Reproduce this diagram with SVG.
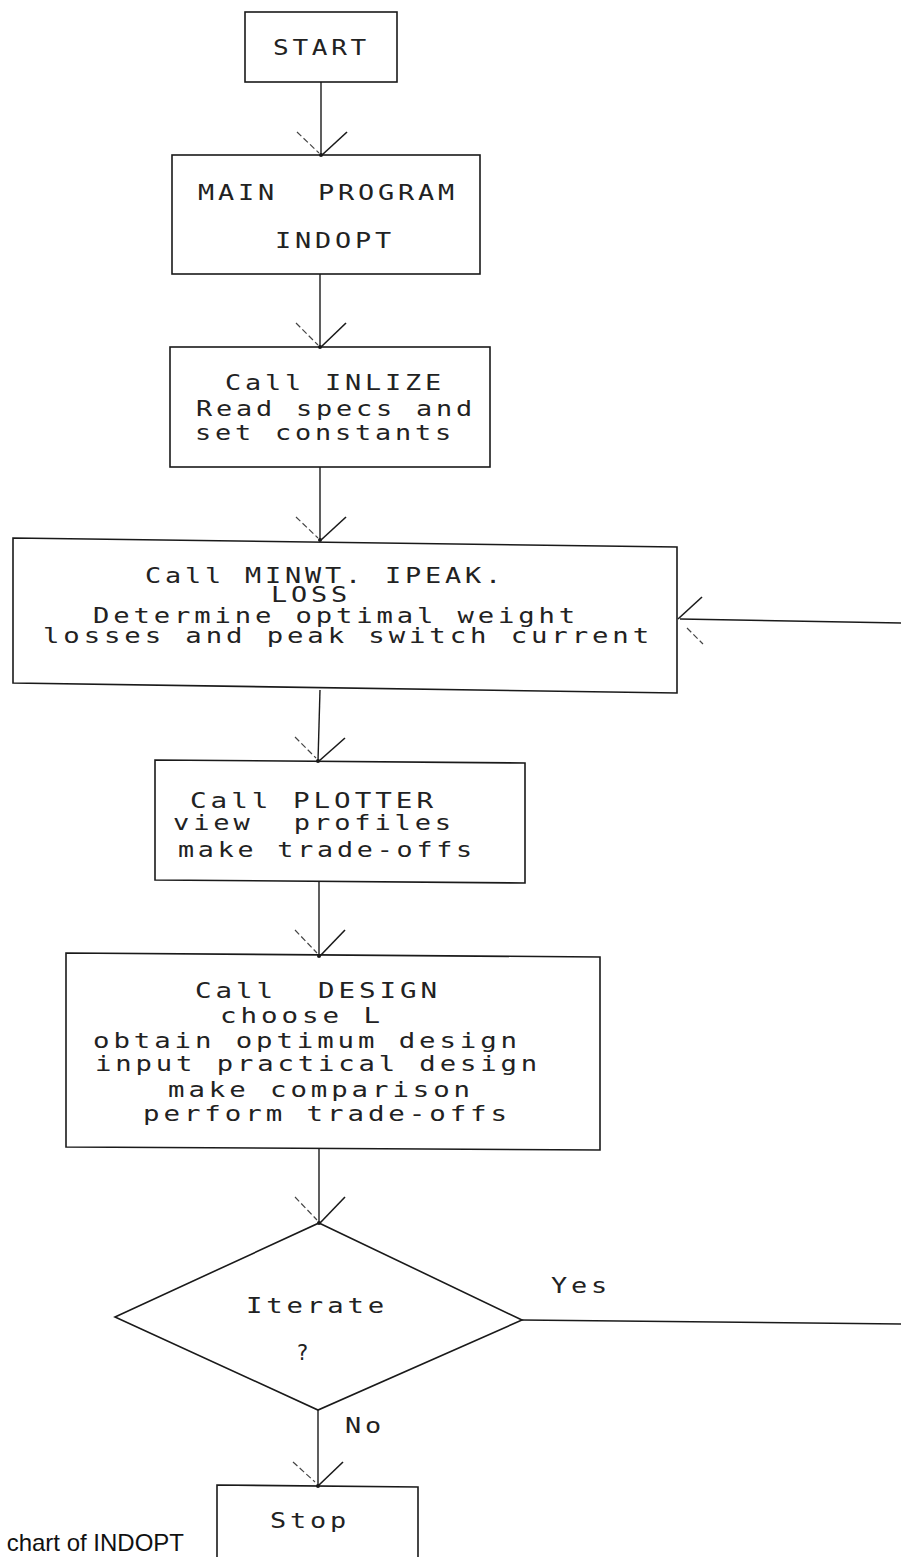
<svg xmlns="http://www.w3.org/2000/svg" width="901" height="1557" viewBox="0 0 901 1557">
<style>
.b{fill:none;stroke:#1a1a1a;stroke-width:1.6}
.c{fill:none;stroke:#1a1a1a;stroke-width:1.4}
.al{fill:none;stroke:#444;stroke-width:1.2;stroke-dasharray:6 3}
.ar{fill:none;stroke:#1a1a1a;stroke-width:1.6}
.d{fill:#1a1a1a}
.t{font-family:"DejaVu Sans Mono","Liberation Mono",monospace;font-size:21px;letter-spacing:3px;fill:#222}
.cap{font-family:"Liberation Sans",Arial,sans-serif;font-size:24px;fill:#111}
</style>
<rect width="901" height="1557" fill="#fff"/>
<g id="connectors">
<line class="c" x1="321" y1="82" x2="321" y2="155"/>
<line class="al" x1="297" y1="132" x2="319" y2="153"/><line class="ar" x1="347" y1="132" x2="322" y2="155"/><circle class="d" cx="321" cy="155" r="2"/>
<line class="c" x1="320" y1="274" x2="320" y2="347"/>
<line class="al" x1="296" y1="323" x2="318" y2="345"/><line class="ar" x1="346" y1="323" x2="321" y2="347"/><circle class="d" cx="320" cy="347" r="2"/>
<line class="c" x1="320" y1="467" x2="320" y2="540"/>
<line class="al" x1="296" y1="517" x2="318" y2="538"/><line class="ar" x1="346" y1="517" x2="321" y2="540"/><circle class="d" cx="320" cy="540" r="2"/>
<line class="c" x1="320" y1="690" x2="318" y2="761"/>
<line class="al" x1="295" y1="737" x2="316" y2="758"/><line class="ar" x1="345" y1="738" x2="319" y2="761"/><circle class="d" cx="318" cy="761" r="2"/>
<line class="c" x1="319" y1="882" x2="319" y2="956"/>
<line class="al" x1="295" y1="930" x2="317" y2="953"/><line class="ar" x1="345" y1="930" x2="320" y2="956"/><circle class="d" cx="319" cy="956" r="2"/>
<line class="c" x1="319" y1="1149" x2="319" y2="1223"/>
<line class="al" x1="295" y1="1197" x2="317" y2="1220"/><line class="ar" x1="345" y1="1197" x2="320" y2="1223"/><circle class="d" cx="319" cy="1223" r="2"/>
<line class="c" x1="318" y1="1410" x2="318" y2="1485"/>
<line class="al" x1="293" y1="1462" x2="315" y2="1482"/><line class="ar" x1="343" y1="1462" x2="319" y2="1485"/><circle class="d" cx="318" cy="1486" r="2"/>
<line class="c" x1="522" y1="1320" x2="901" y2="1324"/>
<line class="c" x1="680" y1="619" x2="901" y2="623"/>
<line class="ar" x1="702" y1="597" x2="678" y2="619"/><line class="al" x1="687" y1="628" x2="703" y2="644"/>
<text class="t" x="551" y="1293" textLength="60" lengthAdjust="spacingAndGlyphs">Yes</text>
<text class="t" x="345" y="1433" textLength="40" lengthAdjust="spacingAndGlyphs">No</text>
</g>
<g id="start"><rect class="b" x="245" y="12" width="152" height="70"/>
<text class="t" x="273" y="55" textLength="97" lengthAdjust="spacingAndGlyphs">START</text></g>
<g id="main"><rect class="b" x="172" y="155" width="308" height="119"/>
<text class="t" x="198" y="200" textLength="260" lengthAdjust="spacingAndGlyphs" xml:space="preserve">MAIN  PROGRAM</text>
<text class="t" x="275" y="248" textLength="120" lengthAdjust="spacingAndGlyphs">INDOPT</text></g>
<g id="inlize"><rect class="b" x="170" y="347" width="320" height="120"/>
<text class="t" x="225" y="390" textLength="220" lengthAdjust="spacingAndGlyphs">Call INLIZE</text>
<text class="t" x="196" y="416" textLength="280" lengthAdjust="spacingAndGlyphs">Read specs and</text>
<text class="t" x="195" y="440" textLength="260" lengthAdjust="spacingAndGlyphs">set constants</text></g>
<g id="minwt"><polygon class="b" points="13,538 677,547 677,693 13,683"/>
<text class="t" x="145" y="583" textLength="360" lengthAdjust="spacingAndGlyphs">Call MINWT. IPEAK.</text>
<text class="t" x="271" y="602" textLength="80" lengthAdjust="spacingAndGlyphs">LOSS</text>
<text class="t" x="93" y="623" textLength="486" lengthAdjust="spacingAndGlyphs">Determine optimal weight</text>
<text class="t" x="43" y="643" textLength="610" lengthAdjust="spacingAndGlyphs">losses and peak switch current</text></g>
<g id="plotter"><polygon class="b" points="155,760 525,763 525,883 155,880"/>
<text class="t" x="190" y="808" textLength="247" lengthAdjust="spacingAndGlyphs">Call PLOTTER</text>
<text class="t" x="173" y="830" textLength="282" lengthAdjust="spacingAndGlyphs" xml:space="preserve">view  profiles</text>
<text class="t" x="178" y="857" textLength="298" lengthAdjust="spacingAndGlyphs">make trade-offs</text></g>
<g id="design"><polygon class="b" points="66,953 600,957 600,1150 66,1147"/>
<text class="t" x="195" y="998" textLength="246" lengthAdjust="spacingAndGlyphs" xml:space="preserve">Call  DESIGN</text>
<text class="t" x="220" y="1023" textLength="164" lengthAdjust="spacingAndGlyphs">choose L</text>
<text class="t" x="93" y="1048" textLength="428" lengthAdjust="spacingAndGlyphs">obtain optimum design</text>
<text class="t" x="95" y="1071" textLength="446" lengthAdjust="spacingAndGlyphs">input practical design</text>
<text class="t" x="168" y="1097" textLength="306" lengthAdjust="spacingAndGlyphs">make comparison</text>
<text class="t" x="143" y="1121" textLength="368" lengthAdjust="spacingAndGlyphs">perform trade-offs</text></g>
<g id="iterate"><polygon class="b" points="319,1223 522,1320 318,1410 115,1317"/>
<text class="t" x="246" y="1313" textLength="142" lengthAdjust="spacingAndGlyphs">Iterate</text>
<text class="t" x="296" y="1360">?</text></g>
<g id="stop"><polyline class="b" points="217,1560 217,1485 418,1487 418,1560"/>
<text class="t" x="270" y="1528" textLength="80" lengthAdjust="spacingAndGlyphs">Stop</text></g>
<text class="cap" x="184" y="1551" text-anchor="end">chart of INDOPT</text>
</svg>
